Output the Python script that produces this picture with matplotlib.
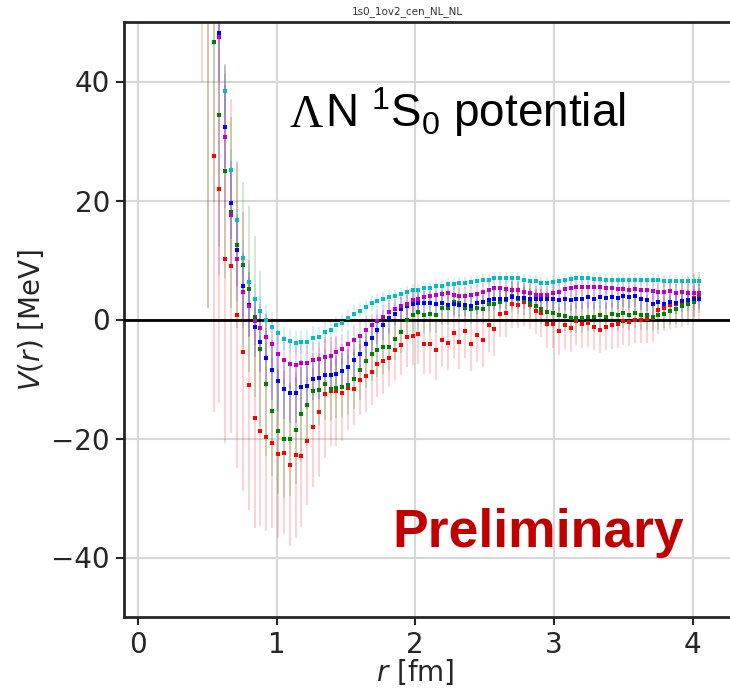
import numpy as np
import matplotlib
matplotlib.use("Agg")
import matplotlib.pyplot as plt

# r grid of the binned lattice data [fm]
r_fm = [0.462, 0.504, 0.546, 0.588, 0.630, 0.673, 0.715, 0.757, 0.799, 0.841,
        0.883, 0.926, 0.968, 1.010, 1.052, 1.094, 1.137, 1.179, 1.221, 1.263,
        1.305, 1.348, 1.390, 1.432, 1.474, 1.516, 1.559, 1.601, 1.643, 1.685,
        1.727, 1.770, 1.812, 1.854, 1.896, 1.938, 1.981, 2.023, 2.065, 2.107,
        2.149, 2.192, 2.234, 2.276, 2.318, 2.360, 2.403, 2.445, 2.487, 2.529,
        2.571, 2.614, 2.656, 2.698, 2.740, 2.782, 2.825, 2.867, 2.909, 2.951,
        2.993, 3.036, 3.078, 3.120, 3.162, 3.204, 3.247, 3.289, 3.331, 3.373,
        3.415, 3.458, 3.500, 3.542, 3.584, 3.626, 3.669, 3.711, 3.753, 3.795,
        3.837, 3.880, 3.922, 3.964, 4.006, 4.048]
nan = np.nan

# V(r) [MeV] for the five time slices, with errors
v_red = [60, 58, 27.4, 21.9, 10.2, 9.0, 0.7, -5.4, -11.0, -16.5,
         -18.7, -19.8, -20.7, -22.6, -22.4, -24.5, -22.8, -23.0, -20.5, -18.1,
         -15.6, -12.5, -12.1, -12.0, -12.3, -11.5, -11.6, -10.1, -9.5, -8.9,
         -7.5, -7.0, -6.4, -5.1, -4.3, -3.0, -2.7, -2.4, -4.1, -4.1,
         -5.1, -3.5, -4.0, -2.2, -3.8, -2.0, -4.1, -2.6, -3.4, -1.0,
         -1.6, 1.0, 1.1, 2.6, 2.5, 2.9, 2.4, 1.5, 1.1, -0.8,
         -0.8, -1.9, -0.9, -1.5, -0.3, -0.8, -0.6, -1.2, -1.7, -1.2,
         -1.0, -0.8, -0.3, -0.4, 0.0, 0.0, 0.1, 0.3, 1.6, 2.0,
         2.4, 2.6, 2.8, 3.1, 3.6, 3.9]
e_red = [20, 56, 43, 36, 31, 28, 25.6, 23.4, 21, 18.6,
         16, 15.8, 14.3, 14.2, 13.7, 13.5, 14, 11.8, 10.6, 10,
         10.8, 10.7, 9.2, 9.3, 8.1, 7, 6.1, 6, 6, 5.5,
         5.5, 5.5, 5, 5, 5, 5, 5, 5, 5, 5,
         5, 4.5, 4.5, 4.5, 4.5, 4.5, 4.5, 4.5, 4.5, 4.5,
         4.5, 4, 4, 4, 4, 4, 4, 4, 4, 4,
         4, 4, 4, 4, 4, 4, 4, 4, 4, 4,
         4, 4, 4, 4, 4, 4, 4, 4, 4, 4,
         4, 4, 4, 4, 4, 4]

v_green = [nan, 58, 46.7, 34.3, 25.0, 18.0, 12.6, 9.1, 5.1, 0.5,
           -4.9, -10.9, -15.3, -18.8, -20.0, -20.1, -18.6, -15.9, -14.3, -12.1,
           -11.8, -10.9, -11.6, -11.5, -11.4, -11.0, -10.0, -8.5, -7.0, -5.8,
           -5.1, -4.7, -4.7, -3.3, -2.1, -0.1, 0.7, 1.3, 0.7, 0.9,
           0.7, 2.0, 2.0, 3.0, 2.7, 2.0, 1.7, 2.0, 1.7, 2.6,
           2.6, 2.9, 3.3, 3.9, 3.5, 3.2, 2.7, 2.2, 1.8, 1.3,
           1.1, 0.7, 0.6, 0.2, 0.3, 0.2, 0.5, 0.4, 0.8, 0.5,
           1.0, 0.7, 1.1, 0.8, 1.1, 0.7, 0.8, 0.5, 0.8, 1.0,
           1.5, 1.7, 2.2, 2.6, 3.0, 3.6]
e_green = [nan, 56, 27, 22, 18, 16, 14, 14, 14, 13.5,
           13, 12, 11, 10.5, 10, 9.5, 9, 8, 7, 6.5,
           6, 6, 5.5, 5, 5, 5, 5, 5, 4.5, 4.5,
           4.5, 4.5, 4, 3.5, 3.5, 3, 3, 3, 3, 3,
           3, 3, 3, 2.5, 2.5, 2.5, 2.5, 2.5, 2.5, 2.5,
           2.5, 2.5, 2.5, 2.5, 2.5, 2.5, 2.5, 2.5, 2.5, 2.5,
           2.5, 2.5, 2.5, 2.5, 2.5, 2.5, 2.5, 2.5, 2.5, 2.5,
           2.5, 2.5, 2.5, 2.5, 2.5, 2.5, 2.5, 2.5, 2.5, 2.5,
           2.5, 2.5, 2.5, 2.5, 2.5, 2.5]

v_blue = [nan, nan, nan, 48.1, 32.4, 19.6, 11.6, 5.7, 2.5, -1.3,
          -3.8, -6.4, -8.5, -10.4, -11.7, -12.4, -12.4, -11.3, -11.1, -10.0,
          -9.8, -9.4, -9.4, -9.1, -8.7, -8.0, -6.8, -5.8, -4.2, -3.1,
          -1.7, -0.9, 0.2, 1.0, 1.8, 2.2, 2.6, 2.7, 2.8, 2.8,
          2.6, 2.8, 2.4, 2.6, 2.4, 2.4, 2.3, 2.7, 2.9, 3.3,
          3.4, 3.5, 3.5, 3.8, 3.6, 3.6, 3.5, 3.4, 3.4, 3.4,
          3.4, 3.3, 3.4, 3.3, 3.5, 3.5, 3.7, 3.5, 3.8, 3.6,
          3.8, 3.6, 3.9, 3.8, 3.9, 3.4, 3.2, 2.6, 2.9, 2.6,
          2.9, 2.8, 3.1, 3.2, 3.4, 3.5]
e_blue = [nan, nan, nan, 8, 7, 6, 6, 5.5, 5.5, 5,
          5, 5, 5, 5, 5, 5, 5, 4.5, 4, 3.5,
          3.5, 3, 3, 3, 3, 3, 3, 3, 2.5, 2.5,
          2.5, 2.5, 2.5, 2, 2, 2, 2, 2, 2, 2,
          2, 2, 2, 1.8, 1.8, 1.8, 1.8, 1.8, 1.8, 1.8,
          1.8, 1.8, 1.8, 1.8, 1.8, 1.8, 1.8, 1.8, 1.8, 1.8,
          1.8, 1.8, 1.8, 1.8, 1.8, 1.8, 1.8, 1.8, 1.8, 1.8,
          1.8, 1.8, 1.8, 1.8, 1.8, 1.8, 1.8, 1.8, 1.8, 1.8,
          1.8, 1.8, 1.8, 1.8, 1.8, 1.8]

v_magenta = [nan, nan, nan, 47.5, 30.7, 17.6, 10.1, 4.6, 2.2, -0.3,
             -1.4, -3.0, -4.2, -5.8, -6.8, -7.5, -7.6, -7.3, -7.3, -6.8,
             -6.7, -6.3, -6.1, -5.4, -5.0, -4.2, -3.4, -2.7, -1.7, -1.0,
             -0.2, 0.4, 1.2, 1.7, 2.3, 2.6, 3.2, 3.4, 3.8, 3.9,
             4.2, 4.3, 4.4, 4.2, 4.0, 4.0, 4.1, 4.3, 4.7, 5.0,
             5.3, 5.3, 5.2, 5.0, 4.9, 4.6, 4.5, 4.2, 4.2, 4.2,
             4.4, 4.6, 5.1, 5.3, 5.4, 5.4, 5.4, 5.4, 5.4, 5.3,
             5.3, 5.1, 5.2, 5.0, 5.1, 4.9, 5.0, 4.8, 4.7, 4.7,
             4.8, 4.5, 4.7, 4.5, 4.4, 4.5]
e_magenta = [nan, nan, nan, 40, 12, 9, 7, 6, 5, 4,
             4, 4, 4, 4, 4, 4, 3.5, 3.5, 3, 3,
             3, 3, 2.5, 2.5, 2.5, 2.5, 2.5, 2.5, 2.5, 2,
             2, 2, 2, 1.8, 1.8, 1.8, 1.8, 1.8, 1.5, 1.5,
             1.5, 1.5, 1.5, 1.5, 1.5, 1.5, 1.5, 1.5, 1.5, 1.5,
             1.5, 1.5, 1.5, 1.5, 1.5, 1.5, 1.5, 1.5, 1.5, 1.5,
             1.5, 1.5, 1.5, 1.5, 1.5, 1.5, 1.5, 1.5, 1.5, 1.5,
             1.5, 1.5, 1.5, 1.5, 1.5, 1.5, 1.5, 1.5, 1.5, 1.5,
             1.5, 1.5, 1.5, 1.5, 1.5, 1.5]

v_cyan = [nan, nan, nan, nan, 38.4, 25.1, 16.7, 10.3, 6.3, 3.5,
          1.5, 0.0, -1.2, -2.2, -3.2, -3.6, -4.0, -3.8, -3.8, -3.1,
          -3.0, -2.1, -1.7, -1.0, -0.6, 0.2, 1.0, 1.5, 2.1, 2.7,
          3.1, 3.5, 3.8, 3.9, 4.3, 4.6, 4.9, 5.0, 5.3, 5.3,
          5.7, 5.7, 6.0, 6.0, 6.1, 6.2, 6.3, 6.4, 6.6, 6.7,
          6.9, 7.0, 7.0, 7.0, 6.9, 6.7, 6.5, 6.4, 6.2, 6.2,
          6.3, 6.5, 6.7, 6.8, 6.9, 6.9, 6.9, 6.8, 6.8, 6.7,
          6.7, 6.7, 6.7, 6.7, 6.7, 6.7, 6.7, 6.7, 6.7, 6.5,
          6.5, 6.4, 6.5, 6.4, 6.4, 6.5]
e_cyan = [nan, nan, nan, nan, 4, 3.5, 3, 3, 3, 2.5,
          2.5, 2.5, 2.5, 2, 2, 2, 2, 2, 2, 2,
          1.8, 1.8, 1.8, 1.5, 1.5, 1.5, 1.5, 1.2, 1.2, 1.2,
          1.2, 1.2, 1.2, 1.0, 1.0, 1.0, 1.0, 1.0, 1.0, 1.0,
          1.0, 1.0, 1.0, 1.0, 1.0, 1.0, 1.0, 1.0, 1.0, 1.0,
          1.0, 1.0, 1.0, 1.0, 1.0, 1.0, 1.0, 1.0, 1.0, 1.0,
          1.0, 1.0, 1.0, 1.0, 1.0, 1.0, 1.0, 1.0, 1.0, 1.0,
          1.0, 1.0, 1.0, 1.0, 1.0, 1.0, 1.0, 1.0, 1.0, 1.0,
          1.0, 1.0, 1.0, 1.0, 1.0, 1.0]

series = [(v_red, e_red, "r"), (v_green, e_green, "g"), (v_blue, e_blue, "b"),
          (v_magenta, e_magenta, "m"), (v_cyan, e_cyan, "c")]

plt.rcParams["mathtext.fontset"] = "dejavusans"
plt.rcParams["mathtext.rm"] = "Liberation Sans"
plt.rcParams["mathtext.it"] = "Liberation Sans:italic"
plt.rcParams["mathtext.bf"] = "Liberation Sans:bold"

dark = "#262626"
fig = plt.figure(figsize=(7.3, 6.99), dpi=100)
ax = fig.add_axes([124 / 730, 82 / 699, 610.3 / 730, 595 / 699])

for v, e, c in series:
    ax.errorbar(r_fm, v, yerr=e, fmt="none", ecolor=c, alpha=0.2,
                elinewidth=1.25, capsize=0, zorder=2)
for v, e, c in series:
    ax.plot(r_fm, v, "s", color=c, ms=3.5, mew=0, zorder=4)

ax.axhline(0, color="black", lw=2, zorder=3)

ax.set_xlim(-0.1, 4.3)
ax.set_ylim(-50, 50)
ax.set_xticks([0, 1, 2, 3, 4])
ax.set_yticks([-40, -20, 0, 20, 40])
ax.grid(True, color="#d8d8d8", lw=1.5)
ax.set_axisbelow(True)
for s in ["left", "bottom", "top"]:
    ax.spines[s].set_color(dark)
    ax.spines[s].set_linewidth(2)
ax.spines["right"].set_visible(False)
ax.tick_params(direction="out", length=6, width=1.5, color=dark,
               labelsize=20, labelcolor=dark, pad=4)

ax.set_xlabel(r"$r$ [fm]", fontsize=20, color=dark)
ax.xaxis.set_label_coords((415 - 124) / 610.3, -0.068)
ax.set_ylabel(r"$V(r)$ [MeV]", fontsize=20, color=dark)

fig.text(407 / 730, 1 - 12 / 699, "1s0_1ov2_cen_NL_NL", fontsize=7.5,
         color="#333333", ha="center", va="center")

# ΛN 1S0 potential label
fig.text(289 / 730, 1 - 127 / 699, "Λ", fontsize=33, family="Liberation Serif",
         color="black", ha="left", va="baseline")
fig.text(325 / 730, 1 - 127 / 699, r"N $^{1}$S$_{0}$ potential", fontsize=33,
         family="Liberation Sans", math_fontfamily="custom", color="black",
         ha="left", va="baseline")

fig.text(392 / 730, 1 - 547 / 699, "Preliminary", fontsize=38.5,
         family="Liberation Sans", weight="bold", color="#c00000",
         ha="left", va="baseline")

fig.savefig("out.png", dpi=100)
